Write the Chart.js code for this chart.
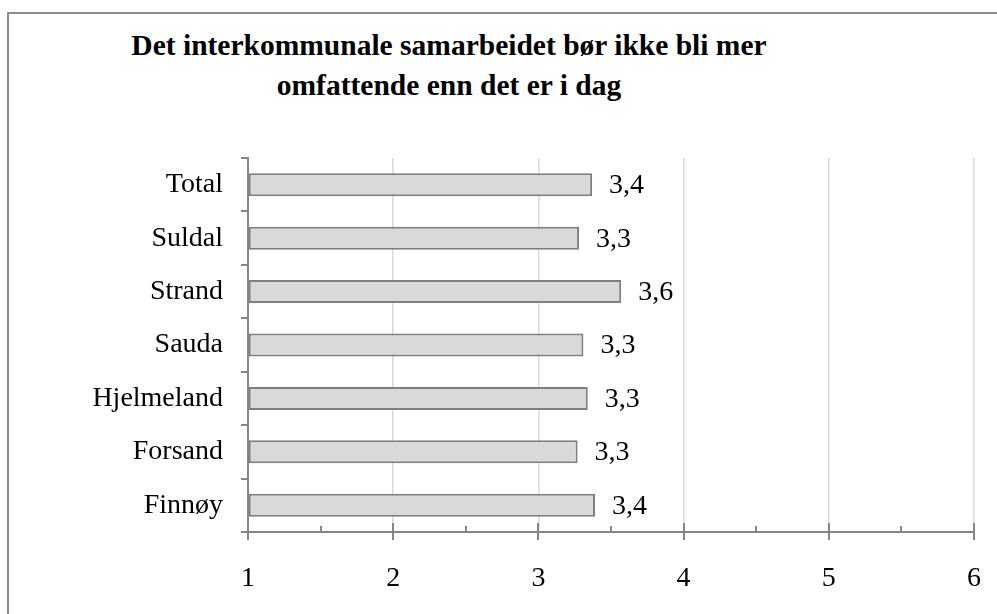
<!DOCTYPE html>
<html>
<head>
<meta charset="utf-8">
<script src="https://cdn.jsdelivr.net/npm/chart.js@4.4.1/dist/chart.umd.min.js"></script>
<style>
  html, body { margin: 0; padding: 0; background: #fff; }
  body { width: 997px; height: 614px; position: relative; overflow: hidden; }
  .frame { position: absolute; left: 7px; top: 12px; width: 1100px; height: 700px;
           border: 2px solid #8c8c8c; box-sizing: border-box; }
  .title { position: absolute; left: 0; width: 898px; top: 25px; text-align: center;
           font-family: "Liberation Serif", serif; font-weight: bold; font-size: 29.5px;
           line-height: 40px; color: #000; }
  canvas { position: absolute; left: 0; top: 0; }
</style>
</head>
<body>
<div class="frame"></div>
<div class="title">Det interkommunale samarbeidet bør ikke bli mer<br>omfattende enn det er i dag</div>
<canvas id="c" width="997" height="614"></canvas>
<script>
// Municipalities, top to bottom
const categories = ['Total', 'Suldal', 'Strand', 'Sauda', 'Hjelmeland', 'Forsand', 'Finnøy'];
// Average agreement score (scale 1–6)
const values = [3.37, 3.28, 3.57, 3.31, 3.34, 3.27, 3.39];
// Axis range and tick labels
const xTicks = [1, 2, 3, 4, 5, 6];

const FONT = '"Liberation Serif", "Times New Roman", serif';
const AXIS = '#868686';

const fmt = v => v.toFixed(1).replace('.', ',');

// Tick marks on the value axis: integers cross the axis, halves sit above it
const axisTicks = {
  id: 'axisTicks',
  afterDatasetsDraw(chart) {
    const x = chart.scales.x;
    const ctx = chart.ctx;
    const y0 = x.top;
    ctx.save();
    ctx.strokeStyle = AXIS;
    ctx.lineWidth = 2;
    for (let v = xTicks[0]; v <= xTicks[xTicks.length - 1] + 1e-9; v += 0.5) {
      const px = Math.round(x.getPixelForValue(v));
      const major = Math.abs(v - Math.round(v)) < 1e-9;
      ctx.beginPath();
      ctx.moveTo(px, y0 - (major ? 9 : 6));
      ctx.lineTo(px, y0 + (major ? 8 : 0));
      ctx.stroke();
    }
    ctx.restore();
  }
};

// Value labels to the right of each bar
const valueLabels = {
  id: 'valueLabels',
  afterDatasetsDraw(chart) {
    const ctx = chart.ctx;
    const meta = chart.getDatasetMeta(0);
    ctx.save();
    ctx.font = '28px ' + FONT;
    ctx.fillStyle = '#000';
    ctx.textAlign = 'left';
    ctx.textBaseline = 'middle';
    meta.data.forEach((bar, i) => {
      ctx.fillText(fmt(values[i]), bar.x + 17, bar.y + 1);
    });
    ctx.restore();
  }
};

new Chart(document.getElementById('c'), {
  type: 'bar',
  data: {
    labels: categories,
    datasets: [{
      data: values,
      base: xTicks[0],
      backgroundColor: '#d9d9d9',
      borderColor: '#7f7f7f',
      borderWidth: 2,
      borderSkipped: false,
      barPercentage: 0.43,
      categoryPercentage: 1
    }]
  },
  options: {
    indexAxis: 'y',
    responsive: false,
    animation: false,
    devicePixelRatio: 1,
    layout: { padding: { top: 158, right: 23, left: 0, bottom: 0 } },
    plugins: { legend: { display: false }, tooltip: { enabled: false }, title: { display: false } },
    scales: {
      x: {
        type: 'linear',
        min: xTicks[0],
        max: xTicks[xTicks.length - 1],
        afterBuildTicks(scale) {
          scale.ticks = xTicks.map(v => ({ value: v }));
        },
        afterFit(scale) { scale.height = 82; },
        border: { display: true, color: AXIS, width: 2 },
        grid: {
          drawTicks: true,
          tickLength: 28,
          tickColor: 'rgba(0,0,0,0)',
          color: ctx => (ctx.tick && ctx.tick.value === xTicks[0]) ? 'rgba(0,0,0,0)' : '#d9d9d9',
          lineWidth: 1.5
        },
        ticks: {
          font: { family: FONT, size: 28 },
          color: '#000',
          padding: 2,
          maxRotation: 0,
          callback: v => String(v)
        }
      },
      y: {
        type: 'category',
        offset: true,
        afterFit(scale) { scale.width = 248; },
        border: { display: true, color: AXIS, width: 2 },
        grid: {
          offset: true,
          drawOnChartArea: false,
          drawTicks: true,
          tickLength: 7,
          tickColor: AXIS,
          lineWidth: 2
        },
        ticks: {
          font: { family: FONT, size: 28 },
          color: '#000',
          padding: 18
        }
      }
    }
  },
  plugins: [axisTicks, valueLabels]
});
</script>
</body>
</html>
